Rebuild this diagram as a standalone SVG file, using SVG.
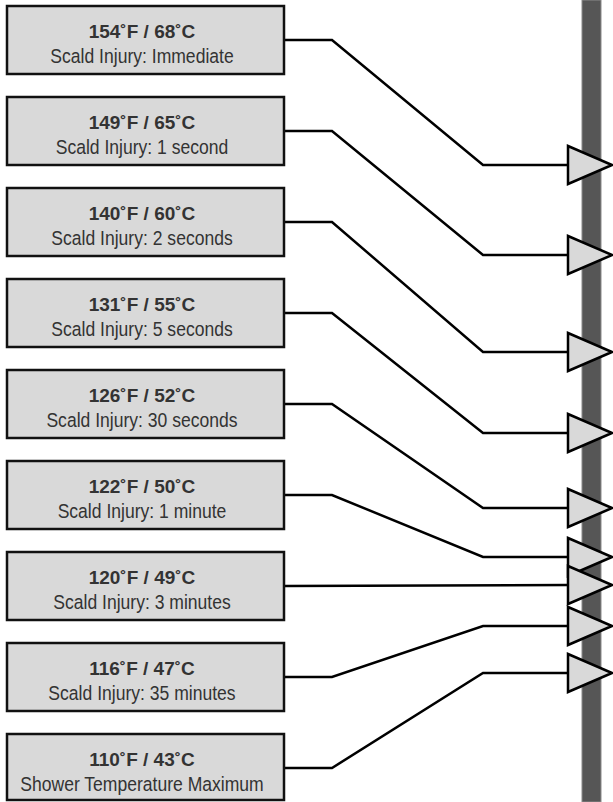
<svg xmlns="http://www.w3.org/2000/svg" width="613" height="802" viewBox="0 0 613 802">
<style>
.box{fill:#d9d9d9;stroke:#111;stroke-width:2.5}
.t{font-family:"Liberation Sans",Arial,sans-serif;font-weight:bold;font-size:19px;fill:#333;text-anchor:middle}
.s{font-family:"Liberation Sans",Arial,sans-serif;font-size:19.5px;fill:#333;text-anchor:middle}
.c{fill:none;stroke:#000;stroke-width:2.5}
.arr{fill:#d9d9d9;stroke:#000;stroke-width:2.5;stroke-linejoin:miter}
</style>
<rect x="0" y="0" width="613" height="802" fill="#fff"/>
<rect id="bar" x="582" y="0" width="19" height="802" fill="#565656" stroke="#8a8a8a" stroke-width="1"/>
<g id="connectors">
<polyline class="c" points="284,40 332,40 483,165 568,165"/>
<polyline class="c" points="284,131 332,131 483,255 568,255"/>
<polyline class="c" points="284,222 332,222 483,352 568,352"/>
<polyline class="c" points="284,313 332,313 483,433 568,433"/>
<polyline class="c" points="284,404 332,404 483,508 568,508"/>
<polyline class="c" points="284,495 332,495 483,557 568,557"/>
<polyline class="c" points="284,586 568,585"/>
<polyline class="c" points="284,677 332,677 483,626 568,626"/>
<polyline class="c" points="284,768 332,768 483,673 568,673"/>
<g id="arrowheads">
<polygon class="arr" points="568,146 612,165 568,184"/>
<polygon class="arr" points="568,236 612,255 568,274"/>
<polygon class="arr" points="568,333 612,352 568,371"/>
<polygon class="arr" points="568,414 612,433 568,452"/>
<polygon class="arr" points="568,489 612,508 568,527"/>
<polygon class="arr" points="568,538 612,557 568,576"/>
<polygon class="arr" points="568,566 612,585 568,604"/>
<polygon class="arr" points="568,607 612,626 568,645"/>
<polygon class="arr" points="568,654 612,673 568,692"/>
</g>
</g>
<g id="n1"><rect class="box" x="7" y="6" width="277" height="68"/><text class="t" x="142" y="38">154˚F / 68˚C</text><text class="s" transform="translate(142,63) scale(0.9,1)">Scald Injury: Immediate</text></g>
<g id="n2"><rect class="box" x="7" y="97" width="277" height="68"/><text class="t" x="142" y="129">149˚F / 65˚C</text><text class="s" transform="translate(142,154) scale(0.9,1)">Scald Injury: 1 second</text></g>
<g id="n3"><rect class="box" x="7" y="188" width="277" height="68"/><text class="t" x="142" y="220">140˚F / 60˚C</text><text class="s" transform="translate(142,245) scale(0.9,1)">Scald Injury: 2 seconds</text></g>
<g id="n4"><rect class="box" x="7" y="279" width="277" height="68"/><text class="t" x="142" y="311">131˚F / 55˚C</text><text class="s" transform="translate(142,336) scale(0.9,1)">Scald Injury: 5 seconds</text></g>
<g id="n5"><rect class="box" x="7" y="370" width="277" height="68"/><text class="t" x="142" y="402">126˚F / 52˚C</text><text class="s" transform="translate(142,427) scale(0.9,1)">Scald Injury: 30 seconds</text></g>
<g id="n6"><rect class="box" x="7" y="461" width="277" height="68"/><text class="t" x="142" y="493">122˚F / 50˚C</text><text class="s" transform="translate(142,518) scale(0.9,1)">Scald Injury: 1 minute</text></g>
<g id="n7"><rect class="box" x="7" y="552" width="277" height="68"/><text class="t" x="142" y="584">120˚F / 49˚C</text><text class="s" transform="translate(142,609) scale(0.9,1)">Scald Injury: 3 minutes</text></g>
<g id="n8"><rect class="box" x="7" y="643" width="277" height="68"/><text class="t" x="142" y="675">116˚F / 47˚C</text><text class="s" transform="translate(142,700) scale(0.9,1)">Scald Injury: 35 minutes</text></g>
<g id="n9"><rect class="box" x="7" y="734" width="277" height="66"/><text class="t" x="142" y="766">110˚F / 43˚C</text><text class="s" transform="translate(142,791) scale(0.9,1)">Shower Temperature Maximum</text></g>
</svg>
